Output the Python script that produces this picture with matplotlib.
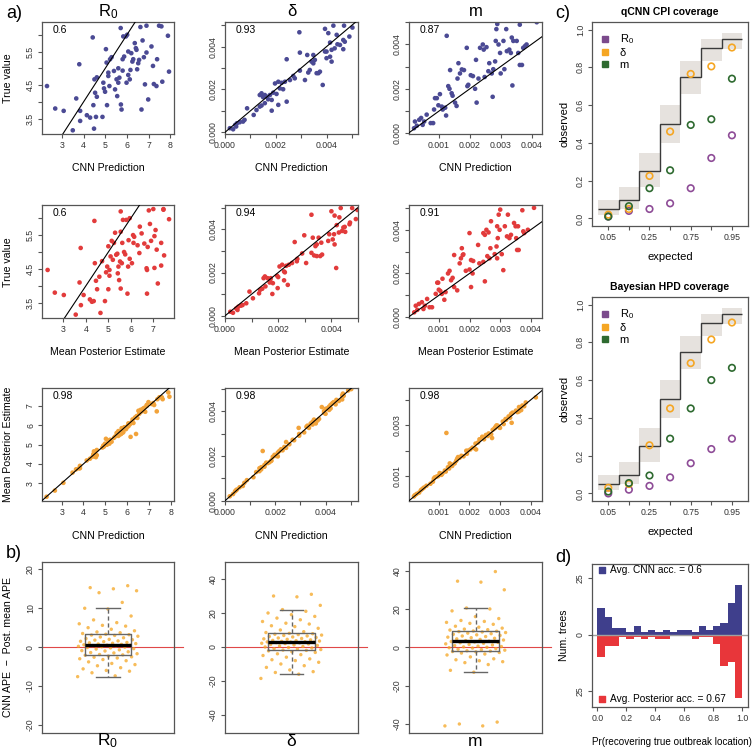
import numpy as np
import matplotlib
matplotlib.use("Agg")
import matplotlib.pyplot as plt
from matplotlib.lines import Line2D

plt.rcParams['font.family'] = ['Liberation Sans', 'DejaVu Sans']
plt.rcParams['mathtext.fontset'] = 'custom'
plt.rcParams['mathtext.rm'] = 'Liberation Sans'
plt.rcParams['mathtext.it'] = 'Liberation Sans:italic'

# ---- R0: cnn prediction, true value, mean posterior ----
r0_cnn = [2.31, 2.69, 3.08, 3.50, 3.66, 3.80, 3.84, 3.84, 4.15, 4.30, 4.42, 4.45, 4.48, 4.50, 4.53,
          4.57, 4.61, 4.61, 4.87, 4.91, 4.94, 4.99, 5.03, 5.06, 5.08, 5.14, 5.14, 5.19, 5.22, 5.29,
          5.40, 5.45, 5.52, 5.55, 5.60, 5.60, 5.65, 5.71, 5.72, 5.75, 5.80, 5.80, 5.83, 5.87, 5.95,
          5.98, 6.01, 6.06, 6.06, 6.13, 6.16, 6.20, 6.25, 6.29, 6.36, 6.41, 6.44, 6.47, 6.52, 6.56,
          6.62, 6.67, 6.72, 6.78, 6.83, 6.90, 6.90, 6.98, 7.13, 7.20, 7.24, 7.36, 7.39, 7.48, 7.59,
          7.63, 7.89, 7.94]
r0_true = [4.47, 3.80, 3.73, 3.15, 4.10, 5.12, 3.73, 3.43, 3.60, 3.53, 5.92, 3.90, 3.20, 4.67, 4.27,
           3.55, 4.73, 4.15, 3.55, 4.57, 4.40, 4.30, 5.57, 5.17, 3.90, 4.87, 4.77, 4.47, 5.27, 5.33,
           4.92, 4.37, 4.67, 4.17, 5.00, 4.57, 4.72, 6.20, 3.92, 3.77, 5.27, 4.93, 5.95, 5.35, 5.95,
           4.57, 6.00, 5.50, 4.80, 4.67, 4.95, 5.45, 5.20, 5.27, 5.75, 5.60, 5.55, 4.97, 5.15, 5.25,
           6.23, 3.77, 5.83, 5.33, 4.52, 6.27, 5.47, 4.07, 5.65, 5.07, 4.53, 4.47, 5.27, 6.27, 6.25,
           4.60, 5.97, 4.90]
r0_post = [2.30, 2.62, 3.02, 3.55, 3.72, 3.77, 3.90, 3.78, 4.18, 4.27, 4.38, 4.50, 4.65, 4.40, 4.60,
           4.35, 4.72, 4.45, 4.85, 4.95, 4.90, 5.05, 5.30, 5.00, 5.00, 5.10, 5.20, 5.05, 5.25, 5.15,
           5.35, 5.42, 5.60, 5.48, 5.70, 5.45, 5.52, 5.55, 5.55, 5.85, 5.62, 5.75, 5.65, 5.90, 5.80,
           5.88, 5.95, 6.10, 5.95, 6.05, 5.40, 6.15, 6.30, 6.12, 6.40, 5.55, 6.48, 6.38, 6.75, 6.60,
           6.80, 6.72, 6.85, 6.90, 6.70, 7.00, 7.05, 7.20, 7.10, 7.15, 7.05, 6.72, 7.35, 7.45, 7.45,
           7.35, 7.70, 7.48]

# ---- delta ----
d_cnn = [0.00019, 0.00032, 0.00040, 0.00044, 0.00047, 0.00058, 0.00071, 0.00077, 0.00087, 0.00113,
         0.00124, 0.00137, 0.00137, 0.00144, 0.00144, 0.00150, 0.00157, 0.00157, 0.00164, 0.00170,
         0.00177, 0.00184, 0.00184, 0.00190, 0.00197, 0.00203, 0.00210, 0.00210, 0.00216, 0.00223,
         0.00229, 0.00236, 0.00243, 0.00243, 0.00256, 0.00269, 0.00275, 0.00293, 0.00295, 0.00295,
         0.00315, 0.00324, 0.00328, 0.00334, 0.00341, 0.00348, 0.00348, 0.00354, 0.00361, 0.00368,
         0.00374, 0.00385, 0.00394, 0.00394, 0.00400, 0.00400, 0.00407, 0.00414, 0.00414, 0.00420,
         0.00420, 0.00427, 0.00432, 0.00440, 0.00443, 0.00453, 0.00466, 0.00466, 0.00469, 0.00472,
         0.00490, 0.00502]
d_true = [0.00019, 0.00014, 0.00034, 0.00027, 0.00042, 0.00047, 0.00050, 0.00058, 0.00112, 0.00081,
          0.00104, 0.00120, 0.00174, 0.00182, 0.00125, 0.00164, 0.00174, 0.00136, 0.00166, 0.00154,
          0.00174, 0.00151, 0.00101, 0.00185, 0.00228, 0.00179, 0.00236, 0.00128, 0.00205, 0.00231,
          0.00201, 0.00236, 0.00341, 0.00143, 0.00244, 0.00263, 0.00252, 0.00467, 0.00372, 0.00288,
          0.00244, 0.00361, 0.00279, 0.00291, 0.00330, 0.00361, 0.00322, 0.00338, 0.00276, 0.00276,
          0.00283, 0.00221, 0.00483, 0.00377, 0.00377, 0.00346, 0.00463, 0.00419, 0.00353, 0.00385,
          0.00330, 0.00498, 0.00392, 0.00455, 0.00411, 0.00408, 0.00431, 0.00388, 0.00498, 0.00423,
          0.00447, 0.00489]
d_post = [0.00020, 0.00030, 0.00042, 0.00047, 0.00050, 0.00060, 0.00066, 0.00080, 0.00092, 0.00105,
          0.00128, 0.00132, 0.00145, 0.00150, 0.00140, 0.00222, 0.00160, 0.00152, 0.00170, 0.00168,
          0.00172, 0.00180, 0.00178, 0.00196, 0.00205, 0.00200, 0.00215, 0.00198, 0.00222, 0.00230,
          0.00225, 0.00240, 0.00262, 0.00236, 0.00252, 0.00272, 0.00270, 0.00325, 0.00298, 0.00290,
          0.00305, 0.00330, 0.00335, 0.00325, 0.00345, 0.00352, 0.00340, 0.00362, 0.00345, 0.00358,
          0.00365, 0.00418, 0.00400, 0.00392, 0.00410, 0.00388, 0.00412, 0.00420, 0.00405, 0.00428,
          0.00412, 0.00435, 0.00440, 0.00430, 0.00450, 0.00445, 0.00470, 0.00452, 0.00478, 0.00468,
          0.00492, 0.00498]

# ---- m ----
m_cnn = [0.00019, 0.00022, 0.00028, 0.00036, 0.00042, 0.00047, 0.00052, 0.00060, 0.00073, 0.00081,
         0.00084, 0.00087, 0.00093, 0.00098, 0.00103, 0.00109, 0.00112, 0.00120, 0.00123, 0.00125,
         0.00130, 0.00134, 0.00136, 0.00141, 0.00144, 0.00152, 0.00157, 0.00160, 0.00163, 0.00168,
         0.00174, 0.00181, 0.00190, 0.00192, 0.00195, 0.00203, 0.00210, 0.00217, 0.00220, 0.00222,
         0.00228, 0.00233, 0.00242, 0.00245, 0.00248, 0.00254, 0.00260, 0.00263, 0.00271, 0.00274,
         0.00276, 0.00282, 0.00284, 0.00286, 0.00289, 0.00293, 0.00298, 0.00300, 0.00309, 0.00312,
         0.00318, 0.00320, 0.00328, 0.00333, 0.00336, 0.00338, 0.00341, 0.00352, 0.00357, 0.00362,
         0.00362, 0.00369, 0.00373, 0.00379, 0.00384, 0.00417]
m_true = [0.00023, 0.00053, 0.00034, 0.00061, 0.00069, 0.00038, 0.00053, 0.00084, 0.00046, 0.00046,
          0.00107, 0.00158, 0.00158, 0.00126, 0.00176, 0.00120, 0.00107, 0.00115, 0.00080, 0.00438,
          0.00212, 0.00200, 0.00284, 0.00180, 0.00169, 0.00138, 0.00123, 0.00246, 0.00315, 0.00269,
          0.00287, 0.00284, 0.00384, 0.00212, 0.00218, 0.00261, 0.00257, 0.00200, 0.00330, 0.00138,
          0.00246, 0.00384, 0.00399, 0.00376, 0.00253, 0.00387, 0.00279, 0.00315, 0.00269, 0.00164,
          0.00288, 0.00323, 0.00415, 0.00468, 0.00491, 0.00399, 0.00361, 0.00269, 0.00415, 0.00288,
          0.00468, 0.00369, 0.00376, 0.00361, 0.00430, 0.00215, 0.00415, 0.00415, 0.00361, 0.00488,
          0.00307, 0.00307, 0.00384, 0.00392, 0.00399, 0.00499]
m_post = [0.00020, 0.00025, 0.00030, 0.00035, 0.00045, 0.00050, 0.00055, 0.00062, 0.00070, 0.00078,
          0.00090, 0.00095, 0.00098, 0.00100, 0.00112, 0.00105, 0.00110, 0.00122, 0.00118, 0.00270,
          0.00135, 0.00130, 0.00150, 0.00145, 0.00140, 0.00150, 0.00160, 0.00168, 0.00175, 0.00172,
          0.00180, 0.00178, 0.00200, 0.00188, 0.00200, 0.00205, 0.00212, 0.00210, 0.00228, 0.00205,
          0.00232, 0.00245, 0.00255, 0.00250, 0.00245, 0.00262, 0.00258, 0.00268, 0.00265, 0.00250,
          0.00282, 0.00288, 0.00290, 0.00295, 0.00300, 0.00298, 0.00292, 0.00290, 0.00315, 0.00305,
          0.00325, 0.00322, 0.00335, 0.00330, 0.00345, 0.00310, 0.00350, 0.00358, 0.00352, 0.00372,
          0.00355, 0.00360, 0.00378, 0.00375, 0.00390, 0.00410]

# correlation labels (rows: CNN vs true, posterior vs true, CNN vs posterior)
r_vals = [["0.6", "0.93", "0.87"], ["0.6", "0.94", "0.91"], ["0.98", "0.98", "0.98"]]

# ---- b) CNN APE - posterior mean APE ----
ape_r0 = [-7.6, -7.4, -6.6, -6.2, -6.0, -5.6, -5.3, -4.8, -4.5, -4.2, -3.8, -3.5, -3.2, -3.0, -2.8,
          -2.6, -2.5, -2.3, -2.1, -2.0, -1.9, -1.7, -1.5, -1.4, -1.2, -1.0, -0.9, -0.7, -0.5, -0.4,
          -0.2, -0.1, 0.0, 0.1, 0.2, 0.3, 0.4, 0.5, 0.5, 0.6, 0.7, 0.8, 0.9, 1.0, 1.1, 1.2, 1.4, 1.5,
          1.6, 1.8, 1.9, 2.0, 2.2, 2.4, 2.6, 2.8, 3.0, 3.1, 3.2, 3.3, 3.5, 3.7, 3.9, 4.2, 4.6, 5.0,
          5.4, 5.6, 6.0, 6.3, 7.0, 8.0, 9.8, 10.0, 11.5, 14.0, 14.5, 15.0, 15.3, 15.8]
ape_d = [-18.5, -16.0, -15.0, -14.5, -13.5, -12.0, -11.0, -10.0, -9.0, -8.0, -7.5, -7.0, -6.0, -5.0,
         -4.5, -4.0, -3.2, -2.8, -2.3, -2.0, -1.8, -1.5, -1.2, -1.0, -0.6, -0.3, 0.0, 0.3, 0.6, 0.9,
         1.2, 1.5, 1.8, 2.0, 2.2, 2.4, 2.6, 2.8, 2.9, 3.0, 3.1, 3.3, 3.5, 3.7, 3.9, 4.2, 4.5, 4.8, 5.0,
         5.3, 5.6, 5.9, 6.2, 6.5, 6.8, 7.0, 7.3, 7.5, 7.8, 8.0, 8.5, 9.0, 10.0, 11.0, 12.0, 12.5, 13.5,
         14.0, 15.0, 16.0, 17.0, 18.0, 19.0, 20.0, 21.0, 22.0, 24.5, 29.5, 30.0, 31.0]
ape_m = [-41.0, -41.0, -40.0, -39.0, -13.0, -12.0, -9.0, -8.0, -7.5, -7.0, -6.5, -6.0, -5.0, -4.0,
         -3.5, -3.0, -2.7, -2.4, -2.2, -2.0, -1.8, -1.5, -1.2, -1.0, -0.7, -0.4, -0.2, 0.0, 0.2, 0.4,
         0.6, 0.9, 1.2, 1.5, 1.8, 2.1, 2.4, 2.6, 2.8, 3.0, 3.2, 3.5, 3.8, 4.1, 4.4, 4.7, 5.0, 5.3, 5.6,
         5.9, 6.2, 6.5, 6.8, 7.1, 7.4, 7.7, 8.0, 8.2, 8.4, 8.5, 9.0, 9.2, 9.5, 10.0, 10.5, 11.0, 12.0,
         12.5, 13.0, 13.5, 14.0, 15.0, 16.0, 19.0, 20.0, 20.5, 30.0, 34.0, 34.5, 39.5]

# ---- c) coverage ----
cov_levels = [0.05, 0.1, 0.25, 0.5, 0.75, 0.9, 0.95]
cov_ticklabels = ["0.05", "", "0.25", "", "0.75", "", "0.95"]
band_lo = [0.018, 0.048, 0.168, 0.40, 0.658, 0.832, 0.896]
band_hi = [0.100, 0.164, 0.344, 0.60, 0.832, 0.952, 0.984]
cnn_cov_r0 = [0.01, 0.04, 0.05, 0.08, 0.16, 0.32, 0.44]
cnn_cov_d = [0.02, 0.05, 0.225, 0.46, 0.765, 0.805, 0.905]
cnn_cov_m = [0.01, 0.065, 0.16, 0.255, 0.495, 0.525, 0.74]
hpd_cov_r0 = [0.0, 0.02, 0.04, 0.085, 0.16, 0.235, 0.29]
hpd_cov_d = [0.03, 0.05, 0.255, 0.45, 0.69, 0.815, 0.905]
hpd_cov_m = [0.01, 0.055, 0.095, 0.29, 0.45, 0.60, 0.665]

# ---- d) outbreak location accuracy ----
loc_bins = np.linspace(0, 1, 21)
cnn_counts = [12, 8, 3, 3, 1, 4, 1, 2, 1, 2, 1, 2, 2, 1, 4, 2, 4, 5, 14, 22]
post_counts = [10, 5, 5, 1, 2, 1, 2, 1, 2, 2, 0, 0, 0, 2, 1, 1, 4, 14, 12, 28]

blue = "#4B4A94"
red = "#E23B3B"
orange = "#F2A33A"
c_r0, c_d, c_m = "#8E4C97", "#F5A623", "#2E6A30"
axis_col = "#555555"

W, H = 754, 753
fig = plt.figure(figsize=(W / 100, H / 100), dpi=100)


def add_ax(l, t, r, b):
    return fig.add_axes([l / W, 1 - b / H, (r - l) / W, (b - t) / H])


def r_style(ax):
    for s in ax.spines.values():
        s.set_color(axis_col)
        s.set_linewidth(0.9)
    ax.tick_params(direction='out', length=3, width=0.8, color=axis_col,
                   labelsize=6.3, pad=2, labelcolor='#333333')


def set_ticks(ax, xt, xl, yt, yl):
    ax.set_xticks(xt, xl)
    ax.set_yticks(yt, yl, rotation=90, va='center')


cols = [(42, 174), (225, 358), (409, 542)]
rows = [(22, 134), (205, 318), (388, 501)]

params = [
    (r0_cnn, r0_true, r0_post),
    (d_cnn, d_true, d_post),
    (m_cnn, m_true, m_post),
]
row_colors = [blue, red, orange]

xlims = [[(2.08, 8.17), (0, 0.00524), (0.000027, 0.00434)],
         [(2.05, 7.92), (0, 0.00494), (0.00003, 0.00436)],
         [(2.10, 8.15), (0, 0.00529), (0.00003, 0.00437)]]
ylims = [[(3.04, 6.38), (-0.00008, 0.00515), (-0.00003, 0.0050)],
         [(3.05, 6.39), (-0.0001, 0.00512), (-0.00003, 0.00512)],
         [(2.08, 7.93), (-0.00001, 0.00503), (0.00002, 0.00447)]]

r0_xt = [3, 4, 5, 6, 7, 8]
r0_mid_xt = [3, 4, 5, 6, 7]
r0_yt = [3.5, 4.0, 4.5, 5.0, 5.5, 6.0]
r0_yl = ["3.5", "", "4.5", "", "5.5", ""]
d_t = [0, 0.001, 0.002, 0.003, 0.004, 0.005]
d_l = ["0.000", "", "0.002", "", "0.004", ""]
m_xt = [0.001, 0.002, 0.003, 0.004]
m_xl = ["0.001", "0.002", "0.003", "0.004"]

tick_spec = [
    [(r0_xt, [str(v) for v in r0_xt], r0_yt, r0_yl), (d_t, d_l, d_t, d_l), (m_xt, m_xl, d_t, d_l)],
    [(r0_mid_xt, [str(v) for v in r0_mid_xt], r0_yt, r0_yl), (d_t, d_l, d_t, d_l), (m_xt, m_xl, d_t, d_l)],
    [(r0_xt, [str(v) for v in r0_xt], [3, 4, 5, 6, 7], ["3", "4", "5", "6", "7"]), (d_t, d_l, d_t, d_l),
     (m_xt, m_xl, m_xt, ["0.001", "", "0.003", ""])],
]
row_xlabels = ["CNN Prediction", "Mean Posterior Estimate", "CNN Prediction"]
row_xlabel_y = [168, 352, 536]
titles = ["R$_0$", "δ", "m"]

for i, (top, bot) in enumerate(rows):
    for j, (left, right) in enumerate(cols):
        ax = add_ax(left, top, right, bot)
        cnn, true, post = params[j]
        if i == 0:
            x, y = cnn, true
        elif i == 1:
            x, y = post, true
        else:
            x, y = cnn, post
        ax.scatter(x, y, s=11, color=row_colors[i], edgecolors='none', zorder=2)
        ax.plot([-10, 10], [-10, 10], color='black', lw=0.8, zorder=3)
        ax.set_xlim(xlims[i][j])
        ax.set_ylim(ylims[i][j])
        r_style(ax)
        set_ticks(ax, *tick_spec[i][j])
        ax.text(0.08, 0.93, r_vals[i][j], transform=ax.transAxes, fontsize=7.5,
                va='center', ha='left')
        fig.text((left + right) / 2 / W, 1 - row_xlabel_y[i] / H, row_xlabels[i],
                 ha='center', va='center', fontsize=7.6)
        if i == 0:
            fig.text((left + right) / 2 / W, 1 - 12 / H, titles[j], ha='center',
                     va='center', fontsize=12)

fig.text(8 / W, 1 - 78 / H, "True value", rotation=90, ha='center', va='center', fontsize=7.6)
fig.text(8 / W, 1 - 262 / H, "True value", rotation=90, ha='center', va='center', fontsize=7.6)
fig.text(8 / W, 1 - 444 / H, "Mean Posterior Estimate", rotation=90, ha='center', va='center',
         fontsize=7.6)

# ---- b) box plots ----
ape_sets = [ape_r0, ape_d, ape_m]
b_ylims = [(-22.1, 21.9), (-50.6, 50.0), (-44.7, 44.5)]
b_yticks = [[-20, -10, 0, 10, 20], [-40, -20, 0, 20, 40], [-40, -20, 0, 20, 40]]
for j, (left, right) in enumerate(cols):
    ax = add_ax(left, 562, right, 733)
    vals = np.array(ape_sets[j])
    n = len(vals)
    jit = ((np.arange(n) * 0.6180339887) % 1 - 0.5) * 0.46
    ax.axhline(0, xmin=0, xmax=1.07, color='#E04848', lw=0.8, clip_on=False, zorder=1)
    ax.scatter(1 + jit, vals, s=6, color="#F5A623", alpha=0.75, edgecolors='none', zorder=2)
    ax.boxplot(vals, positions=[1], widths=0.35, whis=1.5, showfliers=False,
               medianprops=dict(color='black', lw=2.4),
               boxprops=dict(color='#666666', lw=1),
               whiskerprops=dict(color='#666666', lw=1, ls=(0, (3, 2))),
               capprops=dict(color='#666666', lw=1), zorder=3)
    ax.set_xlim(0.5, 1.5)
    ax.set_ylim(b_ylims[j])
    r_style(ax)
    ax.set_xticks([])
    ax.set_yticks(b_yticks[j], [str(v) for v in b_yticks[j]], rotation=90, va='center')
    fig.text((left + right) / 2 / W, 1 - 741 / H, titles[j], ha='center', va='center', fontsize=12.5)

fig.text(8 / W, 1 - 647 / H, "CNN APE  \u2212  Post. mean APE", rotation=90, ha='center',
         va='center', fontsize=7.6)

# ---- c) coverage panels ----
pos = np.arange(1, 8)
cov_panels = [("qCNN CPI coverage", 22, 226, cnn_cov_r0, cnn_cov_d, cnn_cov_m),
              ("Bayesian HPD coverage", 297, 501, hpd_cov_r0, hpd_cov_d, hpd_cov_m)]
for title, top, bot, cr0, cd, cm in cov_panels:
    ax = add_ax(592, top, 748, bot)
    ax.bar(pos, np.array(band_hi) - np.array(band_lo), bottom=band_lo, width=1.0,
           color='#E6E2DE', edgecolor='none', zorder=1)
    ax.stairs(cov_levels, np.arange(0.5, 8.5), color='#3A3A3A', lw=1.0, baseline=None, zorder=2)
    ax.scatter(pos, cr0, s=22, facecolors='none', edgecolors=c_r0, linewidths=1.2, zorder=3)
    ax.scatter(pos, cd, s=22, facecolors='none', edgecolors=c_d, linewidths=1.2, zorder=3)
    ax.scatter(pos, cm, s=22, facecolors='none', edgecolors=c_m, linewidths=1.2, zorder=3)
    ax.set_xlim(0.21, 7.78)
    ax.set_ylim(-0.04, 1.04)
    r_style(ax)
    ax.set_xticks(pos, cov_ticklabels)
    yt = [0.0, 0.2, 0.4, 0.6, 0.8, 1.0]
    ax.set_yticks(yt, [f"{v:.1f}" for v in yt], rotation=90, va='center')
    ax.set_title(title, fontsize=7.5, fontweight='bold', pad=5)
    ax.set_xlabel("expected", fontsize=8, labelpad=7)
    ax.set_ylabel("observed", fontsize=8, labelpad=5)
    handles = [Line2D([], [], marker='s', ls='none', color=c, markersize=5)
               for c in ("#7B4A8C", c_d, c_m)]
    ax.legend(handles, ["R$_0$", "δ", "m"], loc='upper left', frameon=False, fontsize=8,
              handlelength=1.0, handletextpad=0.8, labelspacing=0.15,
              bbox_to_anchor=(0.02, 0.97), borderaxespad=0)

# ---- d) outbreak location ----
ax = add_ax(592, 564, 748, 707)
ax.bar(loc_bins[:-1], cnn_counts, width=0.05, align='edge', color="#3F3F8C", edgecolor='none')
ax.bar(loc_bins[:-1], -np.array(post_counts), width=0.05, align='edge', color="#E8363A",
       edgecolor='none')
ax.axhline(0, color='#A0A0A0', lw=1.0)
ax.set_xlim(-0.037, 1.04)
ax.set_ylim(-32, 31.3)
r_style(ax)
xt = [0.0, 0.2, 0.4, 0.6, 0.8, 1.0]
ax.set_xticks(xt, [f"{v:.1f}" for v in xt])
ax.set_yticks([-25, 0, 25], ["25", "0", "25"], rotation=90, va='center')
ax.set_ylabel("Num. trees", fontsize=7.6, labelpad=5)
fig.text(672 / W, 1 - 742 / H, "Pr(recovering true outbreak location)", fontsize=7.1,
         ha='center', va='center')
ax.scatter([0.035], [28.5], marker='s', s=22, color="#3F3F8C", clip_on=False)
ax.text(0.09, 28.5, "Avg. CNN acc. = 0.6", fontsize=7.3, va='center')
ax.scatter([0.035], [-28.5], marker='s', s=22, color="#E8363A", clip_on=False)
ax.text(0.09, -28.5, "Avg. Posterior acc. = 0.67", fontsize=7.3, va='center')

# panel letters
for lab, x, y in [("a)", 14, 14), ("b)", 14, 554), ("c)", 563, 14), ("d)", 563, 557)]:
    fig.text(x / W, 1 - y / H, lab, fontsize=13, ha='center', va='center')

fig.savefig("out.png", dpi=100)
